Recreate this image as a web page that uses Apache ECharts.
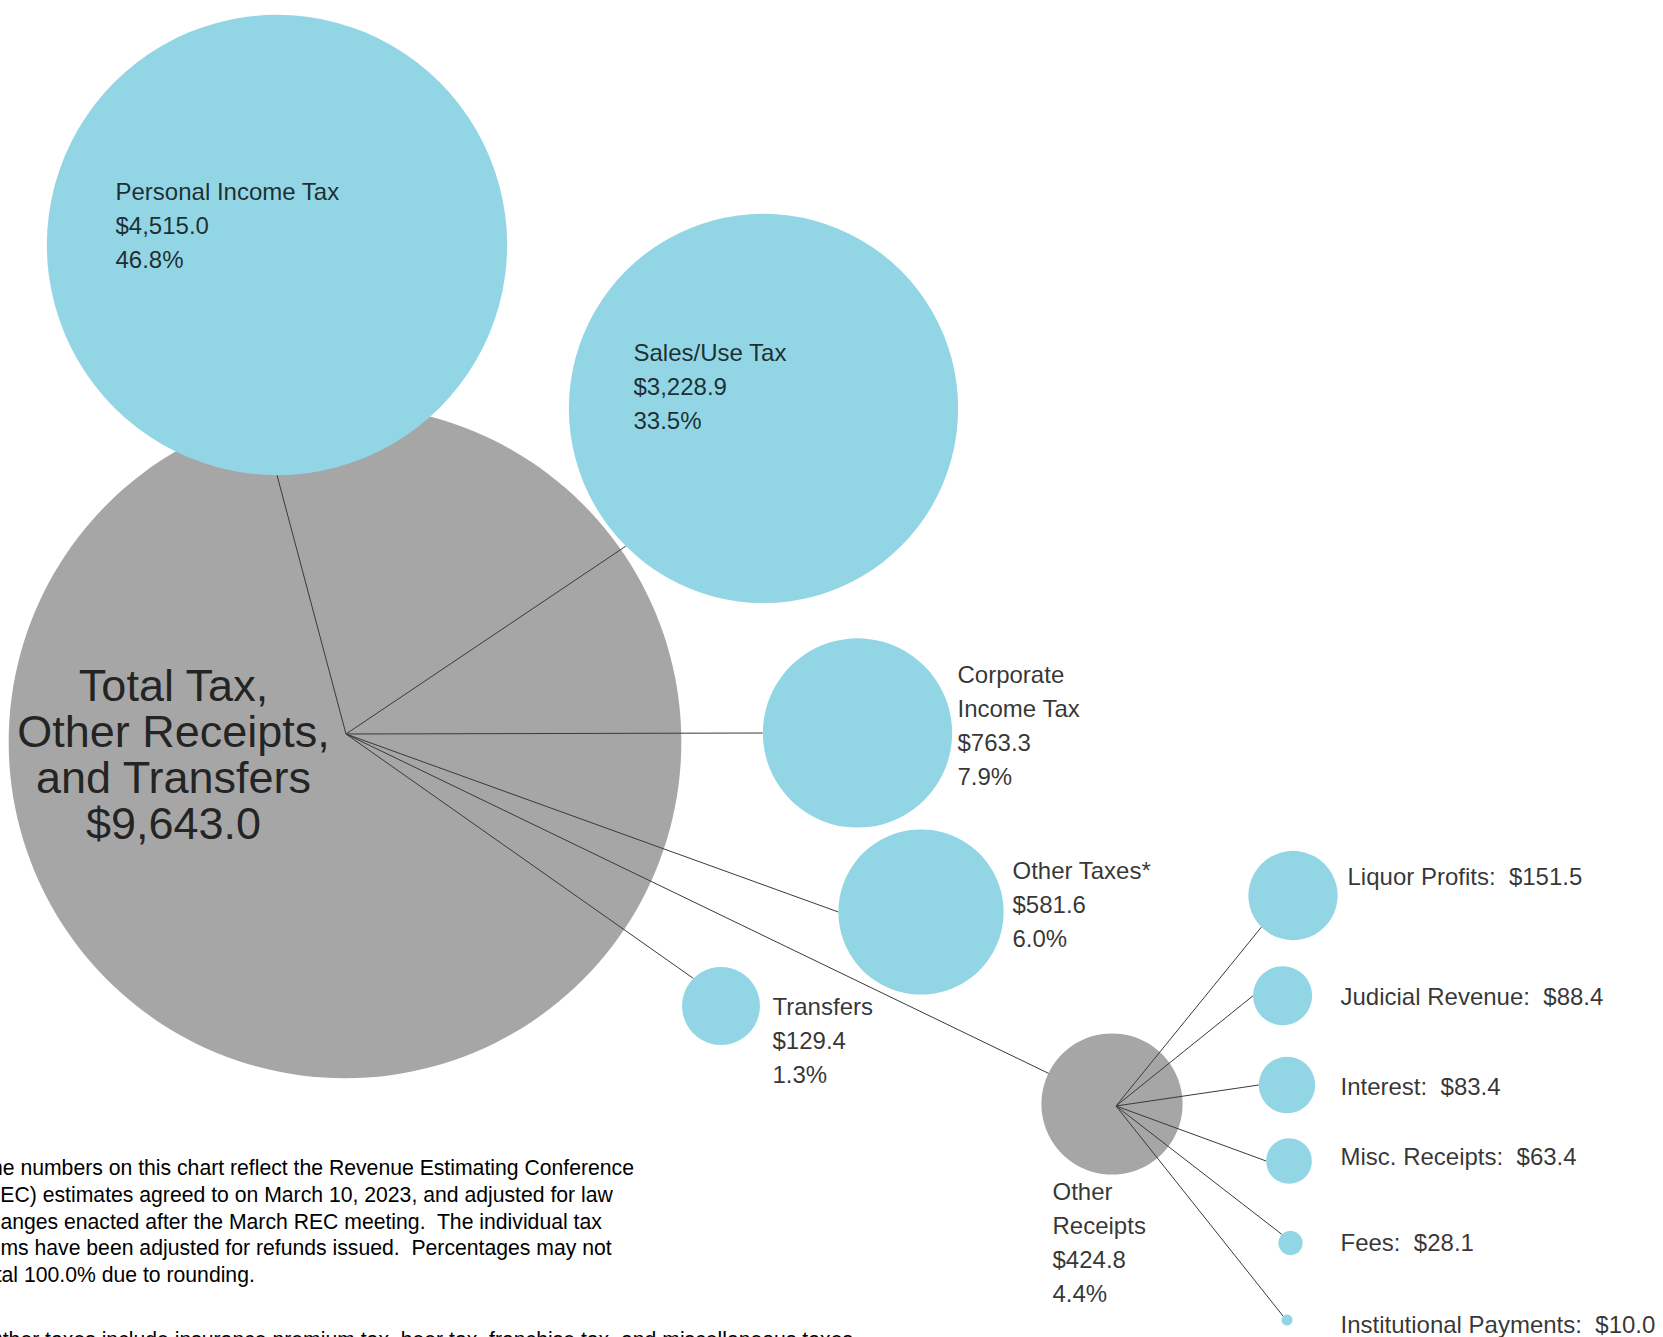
<!DOCTYPE html>
<html>
<head>
<meta charset="utf-8">
<script src="https://cdn.jsdelivr.net/npm/echarts@6/dist/echarts.min.js"></script>
<style>
html,body{margin:0;padding:0;background:#fff;overflow:hidden}
#c{width:1663px;height:1337px}
</style>
</head>
<body>
<div id="c"></div>
<script>
// ---------------- data ----------------
const totalTitle = 'Total Tax,\nOther Receipts,\nand Transfers';
const categories = ['Personal Income Tax', 'Sales/Use Tax', 'Corporate Income Tax', 'Other Taxes*', 'Transfers', 'Other Receipts'];
const categoryLabels = ['Personal Income Tax', 'Sales/Use Tax', 'Corporate\nIncome Tax', 'Other Taxes*', 'Transfers', 'Other\nReceipts'];
const values = [4515.0, 3228.9, 763.3, 581.6, 129.4, 424.8];
const subCategories = ['Liquor Profits', 'Judicial Revenue', 'Interest', 'Misc. Receipts', 'Fees', 'Institutional Payments'];
const subValues = [151.5, 88.4, 83.4, 63.4, 28.1, 10.0];
const footnoteLines = [
  'The numbers on this chart reflect the Revenue Estimating Conference',
  '(REC) estimates agreed to on March 10, 2023, and adjusted for law',
  'changes enacted after the March REC meeting.  The individual tax',
  'items have been adjusted for refunds issued.  Percentages may not',
  'total 100.0% due to rounding.'
];
const footnoteStar = '*Other taxes include insurance premium tax, beer tax, franchise tax, and miscellaneous taxes.';

// ---------------- layout (pixel space) ----------------
const W = 1663, H = 1337;
const FONT = 'Arial, "Liberation Sans", sans-serif';
const totalPos = [345, 742];
const hub = [346, 734];
const mainPos = [[277, 245], [763.5, 408.5], [857.5, 733], [921, 912], [721, 1006], [1112, 1104]];
const mainAnchor = [90, 135, 180, 180, 225, null];
const mainLabelPos = [[116, 175], [634, 336], [958, 658], [1013, 854], [773, 990], [1053, 1175]];
const totalLabelPos = [174, 663];
const subHub = [1116, 1106];
const subPos = [[1293, 895.5], [1282.6, 995.7], [1287, 1085], [1289, 1161], [1290.5, 1243], [1287, 1320]];
const subAnchor = [135, 180, 180, 180, 225, 225];
const subLabelPos = [[1348, 860], [1341, 980], [1341, 1070], [1341, 1140], [1341, 1226], [1341, 1307.5]];

const BLUE = '#92D6E5', GRAY = '#A6A6A6', LINE = '#3a3a3a';

// size scales
const mainSize = v => 6.85 * Math.sqrt(v);
const subSize = v => 1.87 * Math.pow(v, 0.77);

const total = values.reduce((a, b) => a + b, 0);
const fmt = v => '$' + v.toFixed(1).replace(/\B(?=(\d{3})+(?!\d))/g, ',');
const pct = v => (v / total * 100).toFixed(1) + '%';

function anchorPoint(center, size, ang) {
  if (ang === null) return center.slice();
  const r = size / 2, a = ang * Math.PI / 180;
  return [center[0] + r * Math.cos(a), center[1] + r * Math.sin(a)];
}

const mainLines = values.map((v, i) => ({ coords: [hub, anchorPoint(mainPos[i], mainSize(v), mainAnchor[i])] }));
const subLines = subValues.map((v, i) => ({ coords: [subHub, anchorPoint(subPos[i], subSize(v), subAnchor[i])] }));

const baseLabel = { show: true, position: [0, 0], align: 'left', verticalAlign: 'top', color: '#000', fontFamily: FONT, fontSize: 24, lineHeight: 34 };

const labelData = [];
values.forEach((v, i) => labelData.push({
  value: mainLabelPos[i],
  label: Object.assign({}, baseLabel, { formatter: categoryLabels[i] + '\n' + fmt(v) + '\n' + pct(v) })
}));
subValues.forEach((v, i) => labelData.push({
  value: subLabelPos[i],
  label: Object.assign({}, baseLabel, { formatter: subCategories[i] + ':  ' + fmt(v) })
}));
labelData.push({
  value: totalLabelPos,
  label: Object.assign({}, baseLabel, { align: 'center', fontSize: 45, lineHeight: 46, formatter: totalTitle + '\n' + fmt(total) })
});

const chart = echarts.init(document.getElementById('c'), null, { renderer: 'svg', width: W, height: H });
chart.setOption({
  animation: false,
  backgroundColor: '#fff',
  grid: { left: 0, right: 0, top: 0, bottom: 0, containLabel: false },
  xAxis: { type: 'value', min: 0, max: W, show: false },
  yAxis: { type: 'value', min: 0, max: H, inverse: true, show: false },
  graphic: [{
    type: 'text', x: -22, y: 1154.7, silent: true,
    style: { text: footnoteLines.join('\n'), fontSize: 21.2, lineHeight: 26.6, fontFamily: FONT, fill: '#000', verticalAlign: 'top', align: 'left' }
  }, {
    type: 'text', x: -22, y: 1339, silent: true,
    style: { text: footnoteStar, fontSize: 21.2, fontFamily: FONT, fill: '#000', verticalAlign: 'middle', align: 'left' }
  }],
  series: [
    { type: 'scatter', name: 'Total', z: 1, silent: true,
      data: [{ value: totalPos, name: 'Total' }],
      symbol: 'circle', symbolSize: () => mainSize(total),
      itemStyle: { color: GRAY, opacity: 1 } },
    { type: 'lines', coordinateSystem: 'cartesian2d', z: 2, silent: true,
      data: mainLines, lineStyle: { color: LINE, width: 1, opacity: 1 } },
    { type: 'scatter', name: 'Main', z: 3, silent: true,
      data: values.map((v, i) => ({ value: mainPos[i].concat([v]), name: categories[i],
        itemStyle: { color: i === 5 ? GRAY : BLUE, opacity: 1 } })),
      symbol: 'circle', symbolSize: d => mainSize(d[2]) },
    { type: 'lines', coordinateSystem: 'cartesian2d', z: 4, silent: true,
      data: subLines, lineStyle: { color: LINE, width: 1, opacity: 1 } },
    { type: 'scatter', name: 'Sub', z: 5, silent: true,
      data: subValues.map((v, i) => ({ value: subPos[i].concat([v]), name: subCategories[i] })),
      symbol: 'circle', symbolSize: d => subSize(d[2]),
      itemStyle: { color: BLUE, opacity: 1 } },
    { type: 'scatter', name: 'Labels', z: 6, silent: true,
      data: labelData, symbolSize: 1, itemStyle: { color: 'rgba(0,0,0,0)' } }
  ]
});
</script>
</body>
</html>
